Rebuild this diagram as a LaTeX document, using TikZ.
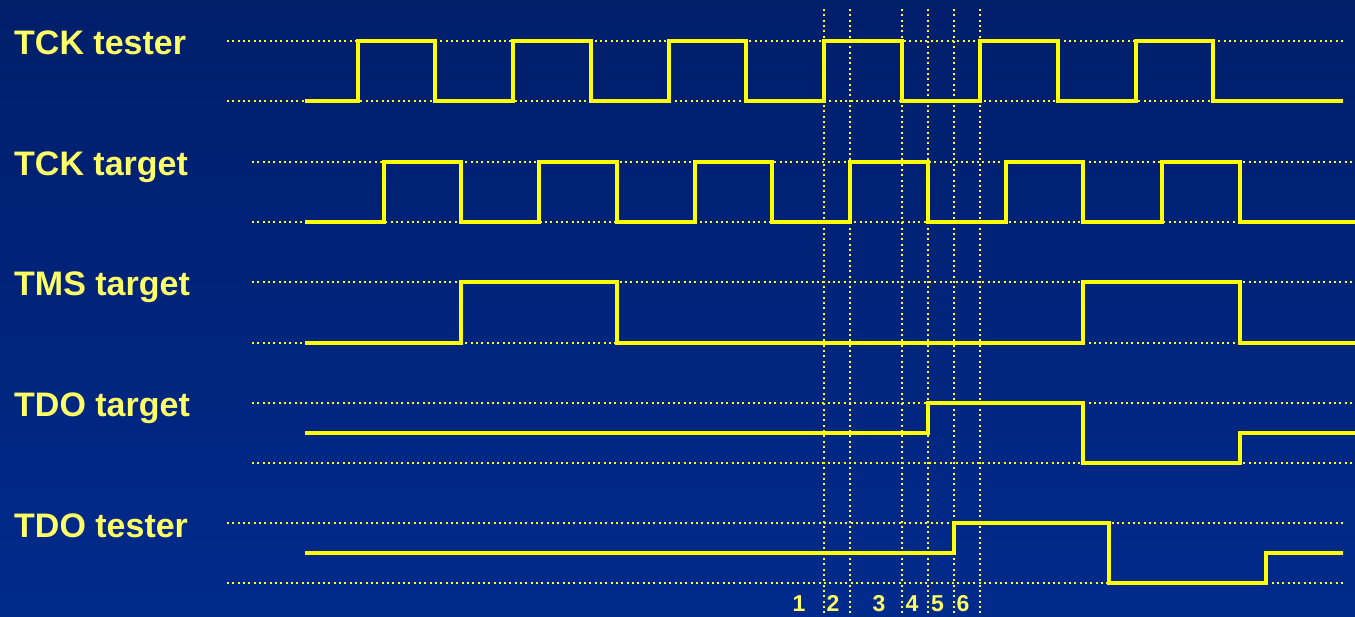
\documentclass[tikz,border=0pt]{standalone}
\usepackage{fontspec}
\setmainfont{Liberation Sans}
\usepackage{tikz}
\usetikzlibrary{positioning}
\definecolor{navytop}{RGB}{0,30,106}
\definecolor{navybot}{RGB}{0,42,140}
\definecolor{sigyel}{RGB}{255,255,0}
\definecolor{txtyel}{RGB}{255,255,102}

\begin{document}
\begin{tikzpicture}[x=1pt,y=-1pt,
  lbl/.style={anchor=base west,inner sep=0pt,text=txtyel,font=\fontsize{34}{40}\selectfont\bfseries},
  num/.style={anchor=base,inner sep=0pt,text=txtyel,font=\fontsize{23}{27}\selectfont\bfseries},
  sig/.style={draw=sigyel,line width=4pt,miter limit=10},
  refline/.style={draw=sigyel,line width=2pt,dash pattern=on 2pt off 3.33pt}]
% background
\useasboundingbox (0,0) rectangle (1355,616);
\shade[top color=navytop,bottom color=navybot] (0,0) rectangle (1355,616);
% signal names
\node[lbl] (tcktes) at (14,54) {TCK tester};
\node[lbl] (tcktar) at (14,175) {TCK target};
\node[lbl] (tmstar) at (14,295) {TMS target};
\node[lbl] (tdotar) at (14,416) {TDO target};
\node[lbl] (tdotes) at (14,537) {TDO tester};
% high / low reference levels
\path[refline] (227,41) -- (1343,41) (227,101) -- (1343,101);
\path[refline] (252,161.5) -- (1355,161.5) (252,221.5) -- (1355,221.5);
\path[refline] (252,282) -- (1355,282) (252,342.5) -- (1355,342.5);
\path[refline] (252,403) -- (1355,403) (252,462.5) -- (1355,462.5);
\path[refline] (227,523) -- (1343,523) (227,583) -- (1343,583);
% time marks
\foreach \t in {824.3,850,902.3,928,953.7,980}
  \path[refline] (\t,9) -- (\t,616);
\node[num] (n1) at (799,611) {1};
\node[num] (n2) at (833,611) {2};
\node[num] (n3) at (879,611) {3};
\node[num] (n4) at (912,611) {4};
\node[num] (n5) at (937.5,611) {5};
\node[num] (n6) at (963,611) {6};
% waveforms
\path[sig] (305,101) -| (357.5,41) -| (435,101) -| (513,41) -| (590.5,101) -| (668.5,41)
  -| (746,101) -| (824,41) -| (902,101) -| (980,41) -| (1057.5,101) -| (1135.5,41)
  -| (1213,101) -- (1343,101);
\path[sig] (305,221.5) -| (383.5,161.5) -| (461,221.5) -| (539,161.5) -| (616.5,221.5)
  -| (694.5,161.5) -| (772,221.5) -| (850,161.5) -| (928,221.5) -| (1006,161.5)
  -| (1083,221.5) -| (1161.5,161.5) -| (1239.5,221.5) -- (1355,221.5);
\path[sig] (305,342.5) -| (461,282) -| (617,342.5) -| (1083,282) -| (1240,342.5) -- (1355,342.5);
\path[sig] (305,432.5) -| (928,403) -| (1082.5,462.5) -| (1239.5,432.5) -- (1355,432.5);
\path[sig] (305,553) -| (954,523) -| (1109,583) -| (1265.5,553) -- (1343,553);
\end{tikzpicture}
\end{document}
